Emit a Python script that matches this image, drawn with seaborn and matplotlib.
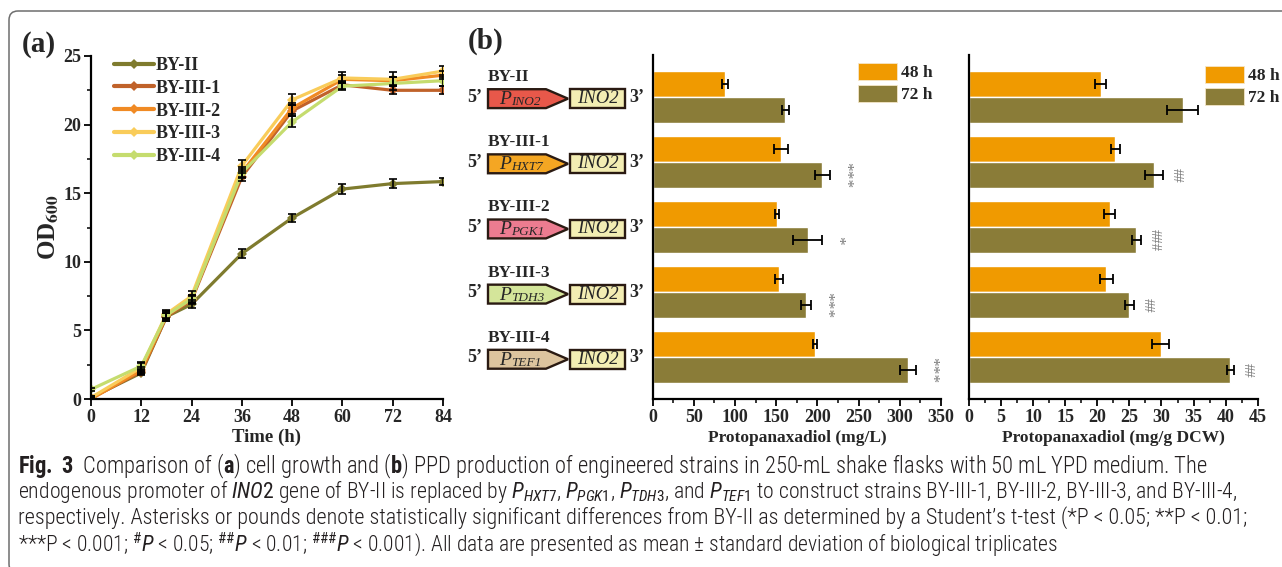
import numpy as np
import pandas as pd
import seaborn as sns
import matplotlib
matplotlib.use("Agg")
import matplotlib.pyplot as plt
from matplotlib import font_manager as fm
from matplotlib import transforms as mtrans
from matplotlib.patches import Polygon, Rectangle, FancyBboxPatch, Patch
from matplotlib.lines import Line2D
from matplotlib.text import Annotation
from matplotlib.ticker import MultipleLocator

# ---------------- data ----------------
times = [0, 12, 18, 24, 36, 48, 60, 72, 84]
strains = ["BY-II", "BY-III-1", "BY-III-2", "BY-III-3", "BY-III-4"]
od_by2 = [0.1, 1.9, 6.0, 6.9, 10.6, 13.2, 15.3, 15.7, 15.85]
od_by31 = [0.05, 2.0, 6.0, 7.2, 16.2, 21.0, 22.9, 22.5, 22.5]
od_by32 = [0.0, 2.1, 6.1, 7.3, 16.5, 21.2, 23.3, 23.2, 23.6]
od_by33 = [0.1, 2.3, 6.2, 7.5, 17.0, 21.8, 23.4, 23.3, 23.9]
od_by34 = [0.7, 2.4, 6.1, 7.3, 16.5, 20.2, 22.8, 23.0, 23.2]
sd_by2 = [0.1, 0.15, 0.3, 0.3, 0.3, 0.3, 0.35, 0.3, 0.25]
sd_by31 = [0.05, 0.2, 0.3, 0.3, 0.3, 0.4, 0.3, 0.3, 0.3]
sd_by32 = [0.05, 0.2, 0.3, 0.3, 0.3, 0.4, 0.3, 0.3, 0.3]
sd_by33 = [0.1, 0.3, 0.3, 0.4, 0.4, 0.4, 0.4, 0.5, 0.4]
sd_by34 = [0.1, 0.3, 0.3, 0.3, 0.4, 0.4, 0.3, 0.5, 0.4]

time_labels = ["48 h", "72 h"]
ppd_48 = [88, 156, 151, 153, 197]
ppd_48_sd = [3.5, 8.5, 2.5, 5.0, 2.0]
ppd_72 = [161, 206, 188, 186, 310]
ppd_72_sd = [4.5, 9.5, 17.5, 6.5, 9.5]
sig_ppd = ["", "***", "*", "***", "***"]
dcw_48 = [20.5, 22.8, 21.9, 21.4, 29.9]
dcw_48_sd = [0.8, 0.7, 0.8, 1.0, 1.35]
dcw_72 = [33.3, 28.8, 26.1, 25.0, 40.7]
dcw_72_sd = [2.4, 1.4, 0.65, 0.7, 0.55]
sig_dcw = ["", "##", "###", "##", "##"]
promoters = ["INO2", "HXT7", "PGK1", "TDH3", "TEF1"]

line_colors = ["#7F7B2E", "#C0622A", "#F08A24", "#F9CC5A", "#C5DC6E"]
bar_colors = ["#F09A00", "#8A7C38"]
promoter_colors = ["#E8584A", "#F4A623", "#EC7C90", "#D4E59A", "#DDC49E"]
gene_color = "#F3EDB3"

# ---------------- style ----------------
sns.set_theme(style="ticks")
SERIF = ["Liberation Serif", "DejaVu Serif"]
plt.rcParams["font.family"] = SERIF
plt.rcParams["font.weight"] = "bold"
plt.rcParams["axes.labelweight"] = "bold"

names = {f.name for f in fm.fontManager.ttflist}
cap_family = "Liberation Sans"
for cand in ["Liberation Sans Narrow", "Roboto Condensed", "Open Sans Condensed"]:
    if cand in names:
        cap_family = cand
        break
plt.rcParams["mathtext.fontset"] = "custom"
plt.rcParams["mathtext.rm"] = cap_family + ":weight=normal"
plt.rcParams["mathtext.it"] = cap_family + ":italic:weight=normal"
plt.rcParams["mathtext.bf"] = cap_family + ":weight=bold"

W, H = 1282, 567
fig = plt.figure(figsize=(W / 100, H / 100), dpi=100)


def fx(px):
    return px / W


def fy(py):
    return 1 - py / H


TICKFS = 13

# ---------------- panel (a) ----------------
ax_a = fig.add_axes([fx(91), fy(399), fx(443) - fx(91), fy(56) - fy(399)])
od_series = [od_by2, od_by31, od_by32, od_by33, od_by34]
sd_series = [sd_by2, sd_by31, sd_by32, sd_by33, sd_by34]
df_a = pd.DataFrame({
    "time": np.tile(times, len(strains)),
    "od": np.concatenate(od_series),
    "strain": np.repeat(strains, len(times)),
})
sns.lineplot(data=df_a, x="time", y="od", hue="strain", hue_order=strains,
             palette=line_colors, marker="D", markersize=5, markeredgewidth=0,
             linewidth=2.3, errorbar=None, legend=False, ax=ax_a)
for od, sd in zip(od_series, sd_series):
    ax_a.errorbar(times, od, yerr=sd, fmt="none", ecolor="black",
                  elinewidth=1.2, capsize=3, capthick=1.2, zorder=5)
ax_a.set_xlim(0, 84)
ax_a.set_ylim(0, 25)
ax_a.set_xticks(range(0, 85, 12))
ax_a.yaxis.set_major_locator(MultipleLocator(5))
ax_a.yaxis.set_minor_locator(MultipleLocator(2.5))
sns.despine(ax=ax_a)
ax_a.set_xlabel("Time (h)", fontsize=13.5, labelpad=2)
ax_a.set_ylabel(r"OD$_{\mathbf{600}}$", fontsize=18, math_fontfamily="stix")
ax_a.yaxis.set_label_coords(-0.085, 0.5)
leg_handles = [Line2D([0], [0], color=c, lw=3, marker="D", markersize=5,
                      markeredgewidth=0) for c in line_colors]
ax_a.legend(leg_handles, strains, loc="upper left", frameon=False,
            bbox_to_anchor=(fx(114), fy(57)), bbox_transform=fig.transFigure,
            borderpad=0, borderaxespad=0, handlelength=2.2, handletextpad=0.1,
            labelspacing=0.32, prop={"family": SERIF, "weight": "bold", "size": 13})

# ---------------- panel (b) ----------------
ax_b1 = fig.add_axes([fx(652.7), fy(399), fx(941) - fx(652.7), fy(55) - fy(399)])
ax_b2 = fig.add_axes([fx(969), fy(399), fx(1257.7) - fx(969), fy(55) - fy(399)])


def bar_panel(ax, v48, s48, v72, s72, sig, xmax, major, xlabel, legend_px):
    df = pd.DataFrame({
        "strain": strains * 2,
        "value": list(v48) + list(v72),
        "time": [time_labels[0]] * len(strains) + [time_labels[1]] * len(strains),
    })
    sns.barplot(data=df, x="value", y="strain", hue="time", hue_order=time_labels,
                order=strains, orient="h", palette=bar_colors, saturation=1,
                errorbar=None, width=0.8, legend=False, ax=ax)
    for cont, sds in zip(ax.containers, [s48, s72]):
        ys = [p.get_y() + p.get_height() / 2 for p in cont.patches]
        xs = [p.get_width() for p in cont.patches]
        ax.errorbar(xs, ys, xerr=sds, fmt="none", ecolor="black",
                    elinewidth=1.3, capsize=3.5, capthick=1.3, zorder=5)
    cont72 = ax.containers[1]
    for p, v, s, lab in zip(cont72.patches, v72, s72, sig):
        if lab:
            ax.annotate(lab, xy=(v + s, p.get_y() + p.get_height() / 2),
                        xytext=(5, 0), textcoords="offset points",
                        rotation=270, ha="left", va="center", color="#7a7a7a",
                        fontsize=12.5 if "*" in lab else 10.5, fontweight="normal")
    ax.set_xlim(0, xmax)
    ax.xaxis.set_major_locator(MultipleLocator(major))
    ax.xaxis.set_minor_locator(MultipleLocator(major / 2))
    ax.set_yticks([])
    ax.set_ylabel("")
    ax.set_xlabel(xlabel, fontsize=12.5, labelpad=3)
    sns.despine(ax=ax)
    handles = [Patch(facecolor=c, edgecolor="#f5e6c8", linewidth=0.6) for c in bar_colors]
    ax.legend(handles, time_labels, loc="upper left", frameon=False,
              bbox_to_anchor=(fx(legend_px[0]), fy(legend_px[1])),
              bbox_transform=fig.transFigure, borderpad=0, borderaxespad=0,
              handlelength=2.25, handleheight=1.1, handletextpad=0.2,
              labelspacing=0.22, prop={"family": SERIF, "weight": "bold", "size": 12.5})


bar_panel(ax_b1, ppd_48, ppd_48_sd, ppd_72, ppd_72_sd, sig_ppd, 350, 50,
          "Protopanaxadiol (mg/L)", (858, 63))
bar_panel(ax_b2, dcw_48, dcw_48_sd, dcw_72, dcw_72_sd, sig_dcw, 45, 5,
          "Protopanaxadiol (mg/g DCW)", (1205, 66))

for ax in (ax_a, ax_b1, ax_b2):
    for s in ("left", "bottom"):
        ax.spines[s].set_linewidth(1.6)
        ax.spines[s].set_color("black")
    ax.tick_params(which="major", direction="out", length=5, width=1.3,
                   labelsize=TICKFS, pad=2, color="black")
    ax.tick_params(which="minor", direction="out", length=3, width=1.1, color="black")
    ax.set_facecolor("none")

# ---------------- gene constructs ----------------
tr = mtrans.blended_transform_factory(fig.transFigure, ax_b1.transData)
box_h = 0.29
for i, (name, prom, pc) in enumerate(zip(strains, promoters, promoter_colors)):
    yc = i + 0.03
    y0, y1 = yc - box_h / 2, yc + box_h / 2
    poly = Polygon([(fx(488), y0), (fx(546), y0), (fx(568), yc), (fx(546), y1), (fx(488), y1)],
                   closed=True, facecolor=pc, edgecolor="#2a1a12", linewidth=1.7,
                   transform=tr, clip_on=False)
    fig.add_artist(poly)
    rect = Rectangle((fx(570), y0), fx(625) - fx(570), box_h, facecolor=gene_color,
                     edgecolor="#2a1a12", linewidth=1.7, transform=tr, clip_on=False)
    fig.add_artist(rect)
    fig.text(fx(488), i - 0.30, name, transform=tr, ha="left", va="center",
             fontsize=12.5, fontweight="bold", family=SERIF)
    fig.text(fx(467), yc - 0.02, "5’", transform=tr, ha="left", va="center",
             fontsize=13, fontweight="bold", family=SERIF)
    fig.text(fx(629), yc - 0.02, "3’", transform=tr, ha="left", va="center",
             fontsize=13, fontweight="bold", family=SERIF)
    fig.text(fx(597.5), yc, "INO2", transform=tr, ha="center", va="center",
             fontsize=13.5, fontstyle="italic", fontweight="normal", family=SERIF)
    tp = fig.text(fx(499), yc + 0.085, "P", transform=tr, ha="left", va="baseline",
                  fontsize=14, fontstyle="italic", fontweight="normal", family=SERIF)
    sub = Annotation(prom, xy=(1, 0), xycoords=tp, ha="left", va="bottom",
                     fontsize=9.5, fontstyle="italic", fontweight="normal", family=SERIF,
                     annotation_clip=False)
    fig.add_artist(sub)

# ---------------- panel letters ----------------
fig.text(fx(22), fy(45), "(a)", fontsize=21, fontweight="bold", family=SERIF,
         ha="left", va="center")
fig.text(fx(468), fy(41), "(b)", fontsize=21, fontweight="bold", family=SERIF,
         ha="left", va="center")

# ---------------- frame ----------------
frame = FancyBboxPatch((9, -6), 1400, H - 11 + 6, boxstyle="round,pad=0,rounding_size=9",
                       transform=mtrans.IdentityTransform(), fill=False,
                       edgecolor="#6e6e6e", linewidth=1.1)
fig.add_artist(frame)

# ---------------- caption ----------------
cap_lines = [
    r"$\mathbf{Fig.\ 3}$  Comparison of ($\mathbf{a}$) cell growth and ($\mathbf{b}$) PPD production of engineered strains in 250-mL shake flasks with 50 mL YPD medium. The",
    r"endogenous promoter of $\mathit{INO2}$ gene of BY-II is replaced by $P_{HXT7}$, $P_{PGK1}$, $P_{TDH3}$, and $P_{TEF1}$ to construct strains BY-III-1, BY-III-2, BY-III-3, and BY-III-4,",
    r"respectively. Asterisks or pounds denote statistically significant differences from BY-II as determined by a Student’s t-test (*P < 0.05; **P < 0.01;",
    r"***P < 0.001; $^{\#}P$ < 0.05; $^{\#\#}P$ < 0.01; $^{\#\#\#}P$ < 0.001). All data are presented as mean ± standard deviation of biological triplicates",
]
cap_right = [1208, 1237, 1245, 1058]
cap_y = [466, 492, 518, 544]
base_fs = 12
cap_texts = []
for line, y in zip(cap_lines, cap_y):
    t = fig.text(fx(18), fy(y), line, ha="left", va="center", fontsize=base_fs,
                 fontweight="light", family=cap_family, color="#231f20",
                 math_fontfamily="custom")
    cap_texts.append(t)

fig.canvas.draw()
renderer = fig.canvas.get_renderer()
for t, r in zip(cap_texts, cap_right):
    bb = t.get_window_extent(renderer)
    t.set_fontsize(base_fs * (r - 18) / bb.width)

# make every tick label bold once the ticks exist
for ax in (ax_a, ax_b1, ax_b2):
    for t in ax.get_xticklabels() + ax.get_yticklabels():
        t.set_fontweight("bold")
        t.set_family(SERIF)

fig.savefig("out.png", dpi=100)
